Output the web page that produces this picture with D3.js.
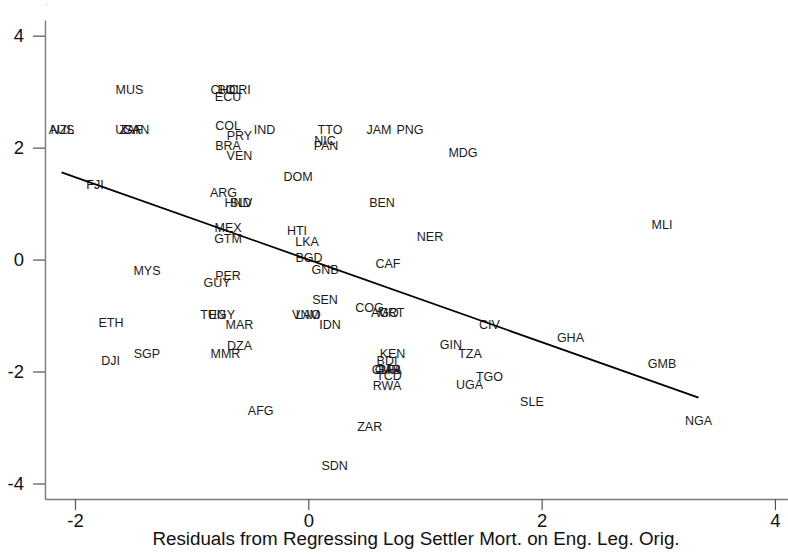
<!DOCTYPE html>
<html>
<head>
<meta charset="utf-8">
<script src="https://cdn.jsdelivr.net/npm/d3@7"></script>
<style>
  html, body { margin: 0; padding: 0; background: #fff; }
  svg { display: block; }
  text { font-family: "Liberation Sans", Arial, sans-serif; }
</style>
</head>
<body>
<div id="chart"></div>
<script>
// ---- Data ----
const countries = ["MUS","AUS","NZL","USA","ZAF","CAN","CHL","BOL","CRI","ECU","COL","PRY","IND","BRA","VEN","TTO","NIC","PAN","JAM","PNG","MDG","DOM","FJI","ARG","HND","SLV","BEN","MEX","GTM","HTI","LKA","BGD","GNB","CAF","MYS","PER","GUY","SEN","COG","AGO","MRT","TUN","EGY","VNM","LAO","MAR","IDN","ETH","DZA","MMR","SGP","DJI","AFG","ZAR","SDN","KEN","BDI","CMR","GAB","BFA","TCD","RWA","GIN","TZA","UGA","TGO","SLE","GHA","GMB","NGA","CIV","NER","MLI"];
const xResid = [-1.533,-2.115,-2.108,-1.545,-1.520,-1.477,-0.731,-0.671,-0.585,-0.688,-0.688,-0.590,-0.375,-0.688,-0.590,0.186,0.143,0.152,0.606,0.872,1.326,-0.088,-1.828,-0.727,-0.603,-0.577,0.632,-0.688,-0.688,-0.097,-0.011,0.006,0.143,0.683,-1.383,-0.688,-0.783,0.143,0.525,0.657,0.709,-0.817,-0.740,-0.020,0.000,-0.590,0.186,-1.691,-0.590,-0.710,-1.383,-1.695,-0.408,0.526,0.226,0.722,0.675,0.666,0.683,0.700,0.692,0.675,1.223,1.386,1.382,1.553,1.917,2.247,3.032,3.345,1.553,1.043,3.032];
const yResid = [3.030,2.325,2.325,2.325,2.325,2.325,3.030,3.030,3.030,2.911,2.388,2.209,2.325,2.030,1.852,2.325,2.120,2.030,2.325,2.325,1.911,1.482,1.334,1.196,1.025,1.025,1.025,0.571,0.370,0.518,0.321,0.043,-0.184,-0.064,-0.202,-0.279,-0.411,-0.707,-0.857,-0.952,-0.952,-0.988,-0.988,-0.988,-0.988,-1.154,-1.154,-1.118,-1.536,-1.671,-1.671,-1.804,-2.696,-2.982,-3.679,-1.671,-1.804,-1.970,-1.970,-1.970,-2.077,-2.250,-1.523,-1.671,-2.238,-2.089,-2.536,-1.386,-1.850,-2.875,-1.166,0.411,0.632];
const fitSlope = -0.737;
const fitIntercept = 0.0;
const xTicks = [-2, 0, 2, 4];
const yTicks = [-4, -2, 0, 2, 4];
const xTitle = "Residuals from Regressing Log Settler Mort. on Eng. Leg. Orig.";

// ---- Layout ----
const W = 788, H = 555;
const svg = d3.select("#chart").append("svg").attr("width", W).attr("height", H);

const x = d3.scaleLinear().domain([-2.257, 4.112]).range([45, 788]);
const y = d3.scaleLinear().domain([-4.277, 4.28]).range([499, 20]);

// Axes
const axisColor = "#7a7a7a";
const gx = svg.append("g").attr("transform", `translate(0,${y.range()[0]})`)
  .call(d3.axisBottom(x).tickValues(xTicks).tickFormat(d3.format("d")).tickSize(11).tickPadding(4).tickSizeOuter(0));
const gy = svg.append("g").attr("transform", `translate(${x.range()[0]},0)`)
  .call(d3.axisLeft(y).tickValues(yTicks).tickFormat(d3.format("d")).tickSize(12).tickPadding(9).tickSizeOuter(0));
[gx, gy].forEach(g => {
  g.select(".domain").attr("stroke", axisColor).attr("stroke-width", 1.4);
  g.selectAll(".tick line").attr("stroke", "#555").attr("stroke-width", 1.2);
  g.selectAll(".tick text").attr("fill", "#111").style("font-size", "18.5px")
    .style("font-family", "'Liberation Sans', Arial, sans-serif");
});
gx.selectAll(".tick text").text(d => d < 0 ? "-" + Math.abs(d) : d);
gy.selectAll(".tick text").text(d => d < 0 ? "-" + Math.abs(d) : d);

// Axis title
svg.append("text")
  .attr("x", 416).attr("y", 545)
  .attr("text-anchor", "middle")
  .attr("fill", "#111")
  .style("font-size", "18.8px")
  .text(xTitle);

// Tiny remnant mark at top-left
svg.append("text").attr("x", 46).attr("y", 5).attr("fill", "#111").style("font-size", "6px").text(".");

// Country labels
const pts = countries.map((c, i) => ({ c, x: xResid[i], y: yResid[i] }));
svg.append("g").selectAll("text").data(pts).join("text")
  .attr("x", d => x(d.x))
  .attr("y", d => y(d.y))
  .attr("dy", "0.36em")
  .attr("text-anchor", "middle")
  .attr("fill", "#1a1a1a")
  .style("font-size", "12.5px")
  .text(d => d.c);

// Fitted line
const xmin = d3.min(xResid), xmax = d3.max(xResid);
const fit = [xmin, xmax].map(v => ({ x: v, y: fitIntercept + fitSlope * v }));
svg.append("path")
  .datum(fit)
  .attr("fill", "none")
  .attr("stroke", "#000")
  .attr("stroke-width", 1.8)
  .attr("d", d3.line().x(d => x(d.x)).y(d => y(d.y)));
</script>
</body>
</html>
